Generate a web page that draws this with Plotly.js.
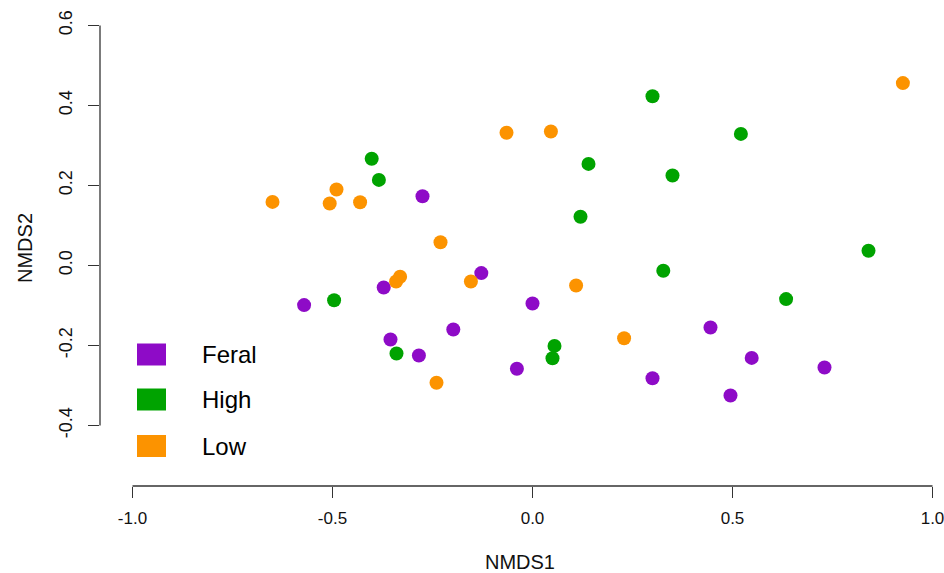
<!DOCTYPE html>
<html>
<head>
<meta charset="utf-8">
<script src="https://cdn.plot.ly/plotly-3.0.1.min.js"></script>
<style>html,body{margin:0;padding:0;background:#fff;}#chart{width:944px;height:573px;}</style>
</head>
<body>
<div id="chart"></div>
<script>
// Data
var groups = ["Feral", "High", "Low"];
var groupColors = ["#8E0BC7", "#00A300", "#FC9300"];

var feralX = [-0.275, -0.128, -0.372, -0.571, 0.000, -0.198, -0.355, -0.284, -0.039, 0.445, 0.548, 0.730, 0.300, 0.495];
var feralY = [0.173, -0.019, -0.055, -0.099, -0.095, -0.160, -0.185, -0.225, -0.258, -0.155, -0.231, -0.255, -0.282, -0.325];

var highX = [-0.402, -0.384, 0.140, 0.120, -0.496, -0.340, 0.055, 0.050, 0.300, 0.521, 0.350, 0.840, 0.327, 0.634];
var highY = [0.267, 0.214, 0.254, 0.122, -0.087, -0.220, -0.201, -0.232, 0.423, 0.329, 0.225, 0.037, -0.013, -0.084];

var lowX = [-0.650, -0.490, -0.507, -0.431, -0.230, -0.065, 0.046, -0.331, -0.341, -0.154, 0.109, 0.229, -0.240, 0.926];
var lowY = [0.159, 0.190, 0.155, 0.158, 0.058, 0.332, 0.335, -0.028, -0.040, -0.040, -0.050, -0.182, -0.293, 0.456];

var xTicks = [-1.0, -0.5, 0.0, 0.5, 1.0];
var xTickLabels = ["-1.0", "-0.5", "0.0", "0.5", "1.0"];
var yTicks = [-0.4, -0.2, 0.0, 0.2, 0.4, 0.6];
var yTickLabels = ["-0.4", "-0.2", "0.0", "0.2", "0.4", "0.6"];

var seriesX = [feralX, highX, lowX];
var seriesY = [feralY, highY, lowY];

var traces = groups.map(function (g, i) {
  return {
    type: "scatter",
    mode: "markers",
    name: g,
    x: seriesX[i],
    y: seriesY[i],
    marker: { color: groupColors[i], size: 14, line: { width: 0 } },
    showlegend: false,
    hoverinfo: "x+y+name"
  };
});

var fontFam = "Liberation Sans, Arial, sans-serif";
var axisColor = "#333333";

var shapes = [
  { type: "line", xref: "x", yref: "paper", x0: xTicks[0], x1: xTicks[xTicks.length - 1], y0: 0, y1: 0, line: { color: axisColor, width: 1.3 } },
  { type: "line", xref: "paper", yref: "y", x0: 0, x1: 0, y0: yTicks[0], y1: yTicks[yTicks.length - 1], line: { color: axisColor, width: 1.3 } }
];
var annotations = [];
var legTop = [343.5, 388.5, 435];
var W = 944, H = 573, mL = 100, mR = 4, mT = 10, mB = 87;
var pw = W - mL - mR, ph = H - mT - mB;
function px2paperX(p) { return (p - mL) / pw; }
function px2paperY(p) { return (H - mB - p) / ph; }
groups.forEach(function (g, i) {
  shapes.push({
    type: "rect", xref: "paper", yref: "paper",
    x0: px2paperX(137), x1: px2paperX(166),
    y0: px2paperY(legTop[i] + 22), y1: px2paperY(legTop[i]),
    fillcolor: groupColors[i], line: { width: 0 }
  });
  annotations.push({
    xref: "paper", yref: "paper", x: px2paperX(200), y: px2paperY(legTop[i] + 11),
    xanchor: "left", yanchor: "middle", text: g, showarrow: false,
    font: { family: fontFam, size: 24, color: "#000" }
  });
});

var layout = {
  width: W, height: H,
  margin: { l: mL, r: mR, t: mT, b: mB, pad: 0, autoexpand: false },
  paper_bgcolor: "#fff", plot_bgcolor: "#fff",
  showlegend: false,
  xaxis: {
    range: [(mL - 532.5) / 400, (W - mR - 532.5) / 400],
    tickmode: "array", tickvals: xTicks, ticktext: xTickLabels,
    ticks: "outside", ticklen: 11, tickwidth: 1.3, tickcolor: axisColor,
    ticklabeloverflow: "allow", automargin: false,
    ticklabelstandoff: 6,
    showgrid: false, zeroline: false, showline: false,
    tickfont: { family: fontFam, size: 17, color: "#111" },
    title: { text: "NMDS1", font: { family: fontFam, size: 20, color: "#111" }, standoff: 28 }
  },
  yaxis: {
    range: [(265.5 - (H - mB)) / 400, (265.5 - mT) / 400],
    tickmode: "array", tickvals: yTicks, ticktext: yTickLabels,
    ticks: "outside", ticklen: 11, tickwidth: 1.3, tickcolor: axisColor,
    tickangle: -90, automargin: false,
    ticklabelstandoff: 9,
    showgrid: false, zeroline: false, showline: false,
    tickfont: { family: fontFam, size: 18, color: "#111" },
    title: { text: "NMDS2", font: { family: fontFam, size: 20, color: "#111" }, standoff: 17 }
  },
  shapes: shapes,
  annotations: annotations
};

Plotly.newPlot("chart", traces, layout, { displayModeBar: false, staticPlot: true });
</script>
</body>
</html>
